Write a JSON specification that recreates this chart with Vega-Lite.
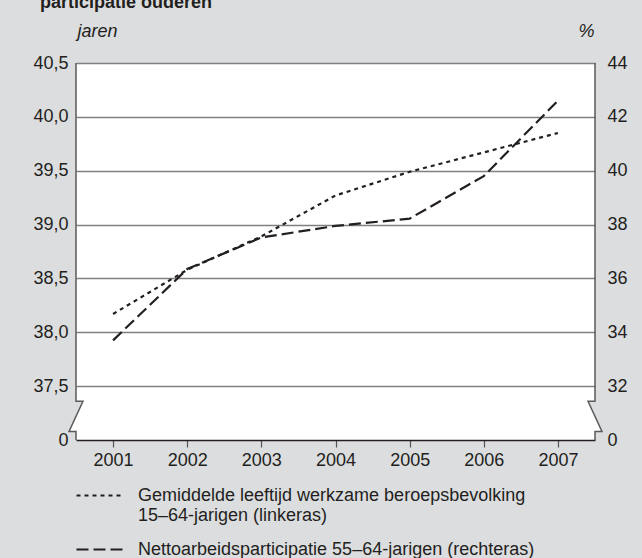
{
  "$schema": "https://vega.github.io/schema/vega-lite/v6.json",
  "width": 519,
  "height": 377,
  "autosize": "none",
  "padding": {"left": 76, "top": 63, "right": 47, "bottom": 118},
  "background": "#dcdddf",
  "title": {"text": "participatie ouderen", "anchor": "start", "frame": "group", "fontSize": 18, "fontWeight": "bold", "color": "#231f20", "font": "Liberation Sans", "baseline": "alphabetic", "offset": 16, "dx": -36, "dy": 20},
  "datasets": {
    "reeksen": [
      {"jaar": 2001, "reeks": "Gemiddelde leeftijd werkzame beroepsbevolking 15–64-jarigen (linkeras)", "waarde": 38.17},
      {"jaar": 2002, "reeks": "Gemiddelde leeftijd werkzame beroepsbevolking 15–64-jarigen (linkeras)", "waarde": 38.58},
      {"jaar": 2003, "reeks": "Gemiddelde leeftijd werkzame beroepsbevolking 15–64-jarigen (linkeras)", "waarde": 38.89},
      {"jaar": 2004, "reeks": "Gemiddelde leeftijd werkzame beroepsbevolking 15–64-jarigen (linkeras)", "waarde": 39.27},
      {"jaar": 2005, "reeks": "Gemiddelde leeftijd werkzame beroepsbevolking 15–64-jarigen (linkeras)", "waarde": 39.49},
      {"jaar": 2006, "reeks": "Gemiddelde leeftijd werkzame beroepsbevolking 15–64-jarigen (linkeras)", "waarde": 39.67},
      {"jaar": 2007, "reeks": "Gemiddelde leeftijd werkzame beroepsbevolking 15–64-jarigen (linkeras)", "waarde": 39.85},
      {"jaar": 2001, "reeks": "Nettoarbeidsparticipatie 55–64-jarigen (rechteras)", "waarde": 33.7},
      {"jaar": 2002, "reeks": "Nettoarbeidsparticipatie 55–64-jarigen (rechteras)", "waarde": 36.35},
      {"jaar": 2003, "reeks": "Nettoarbeidsparticipatie 55–64-jarigen (rechteras)", "waarde": 37.52},
      {"jaar": 2004, "reeks": "Nettoarbeidsparticipatie 55–64-jarigen (rechteras)", "waarde": 37.95},
      {"jaar": 2005, "reeks": "Nettoarbeidsparticipatie 55–64-jarigen (rechteras)", "waarde": 38.22},
      {"jaar": 2006, "reeks": "Nettoarbeidsparticipatie 55–64-jarigen (rechteras)", "waarde": 39.8},
      {"jaar": 2007, "reeks": "Nettoarbeidsparticipatie 55–64-jarigen (rechteras)", "waarde": 42.6}
    ],
    "asbreuk_lijn": [
      {"kant": "links", "i": 0, "x": 2000.5, "v": 40.5},
      {"kant": "links", "i": 1, "x": 2000.5, "v": 37.36},
      {"kant": "links", "i": 2, "x": 2000.594, "v": 37.36},
      {"kant": "links", "i": 3, "x": 2000.406, "v": 37.08},
      {"kant": "links", "i": 4, "x": 2000.5, "v": 37.08},
      {"kant": "links", "i": 5, "x": 2000.5, "v": 37.0},
      {"kant": "rechts", "i": 0, "x": 2007.5, "v": 40.5},
      {"kant": "rechts", "i": 1, "x": 2007.5, "v": 37.36},
      {"kant": "rechts", "i": 2, "x": 2007.406, "v": 37.36},
      {"kant": "rechts", "i": 3, "x": 2007.594, "v": 37.08},
      {"kant": "rechts", "i": 4, "x": 2007.5, "v": 37.08},
      {"kant": "rechts", "i": 5, "x": 2007.5, "v": 37.0}
    ],
    "asbreuk_vlak": [
      {"deel": "links-binnen", "soort": "binnen", "v": 37.36, "a": 2000.5, "b": 2000.594},
      {"deel": "links-binnen", "soort": "binnen", "v": 37.22, "a": 2000.5, "b": 2000.5},
      {"deel": "links-buiten", "soort": "buiten", "v": 37.22, "a": 2000.5, "b": 2000.5},
      {"deel": "links-buiten", "soort": "buiten", "v": 37.08, "a": 2000.406, "b": 2000.5},
      {"deel": "rechts-binnen", "soort": "binnen", "v": 37.36, "a": 2007.406, "b": 2007.5},
      {"deel": "rechts-binnen", "soort": "binnen", "v": 37.22, "a": 2007.5, "b": 2007.5},
      {"deel": "rechts-buiten", "soort": "buiten", "v": 37.22, "a": 2007.5, "b": 2007.5},
      {"deel": "rechts-buiten", "soort": "buiten", "v": 37.08, "a": 2007.5, "b": 2007.594}
    ]
  },
  "layer": [
    {
      "encoding": {
        "y": {"type": "quantitative", "scale": {"domain": [37, 40.5], "nice": false, "zero": false},
          "axis": {"orient": "left", "values": [37, 37.5, 38, 38.5, 39, 39.5, 40, 40.5],
            "labelExpr": "datum.value == 37 ? '0' : replace(format(datum.value, '.1f'), '.', ',')",
            "domain": false, "ticks": false, "grid": true,
            "gridColor": {"condition": {"test": "datum.value == 37", "value": null}, "value": "#808080"},
            "gridWidth": 1.3, "labelPadding": 8,
            "title": "jaren", "titleAngle": 0, "titleX": 1, "titleY": -27, "titleAlign": "left", "titleBaseline": "alphabetic",
            "titleFontStyle": "italic", "titleFontWeight": "normal", "titleFontSize": 18, "titleColor": "#231f20", "titleFont": "Liberation Sans"}}
      },
      "layer": [
        {
          "data": {"name": "reeksen"},
          "transform": [{"filter": "indexof(datum.reeks, 'Gemiddelde') == 0"}],
          "mark": {"type": "line", "color": "#231f20", "strokeWidth": 2.2, "strokeCap": "butt"},
          "encoding": {
            "x": {"field": "jaar", "type": "quantitative", "scale": {"domain": [2000.5, 2007.5], "nice": false, "zero": false},
              "axis": {"values": [2001, 2002, 2003, 2004, 2005, 2006, 2007], "format": "d", "grid": false, "title": null, "domainColor": "#231f20", "domainWidth": 1.5, "tickColor": "#555555", "tickSize": 7, "tickWidth": 1.2, "labelPadding": 4}},
            "y": {"field": "waarde", "type": "quantitative"},
            "strokeDash": {"field": "reeks", "type": "nominal",
              "scale": {"domain": ["Gemiddelde leeftijd werkzame beroepsbevolking 15–64-jarigen (linkeras)", "Nettoarbeidsparticipatie 55–64-jarigen (rechteras)"], "range": [[4, 4], [12, 5]]},
              "legend": {"orient": "none", "legendX": -1, "legendY": 408, "title": null, "symbolType": "stroke", "symbolSize": 2116, "symbolStrokeWidth": 2.2, "symbolStrokeColor": "#231f20",
                "labelFontSize": 18, "labelFont": "Liberation Sans", "labelColor": "#231f20", "labelOffset": 14, "labelLimit": 600, "rowPadding": 0, "padding": 0,
                "labelExpr": "datum.label == 'Nettoarbeidsparticipatie 55–64-jarigen (rechteras)' ? datum.label : ['Gemiddelde leeftijd werkzame beroepsbevolking', '15–64-jarigen (linkeras)']"}}
          }
        },
        {
          "data": {"name": "asbreuk_vlak"},
          "mark": {"type": "area", "orient": "horizontal", "clip": false},
          "encoding": {
            "y": {"field": "v", "type": "quantitative"},
            "x": {"field": "a", "type": "quantitative", "stack": null},
            "x2": {"field": "b"},
            "detail": {"field": "deel", "type": "nominal"},
            "color": {"field": "soort", "type": "nominal", "scale": {"domain": ["binnen", "buiten"], "range": ["#dcdddf", "#ffffff"]}, "legend": null}
          }
        },
        {
          "data": {"name": "asbreuk_lijn"},
          "mark": {"type": "line", "color": "#5a5a5a", "strokeWidth": 1.5, "clip": false, "strokeJoin": "miter"},
          "encoding": {
            "x": {"field": "x", "type": "quantitative"},
            "y": {"field": "v", "type": "quantitative"},
            "detail": {"field": "kant", "type": "nominal"},
            "order": {"field": "i", "type": "quantitative"}
          }
        }
      ]
    },
    {
      "data": {"name": "reeksen"},
      "transform": [{"filter": "indexof(datum.reeks, 'Netto') == 0"}],
      "mark": {"type": "line", "color": "#231f20", "strokeWidth": 2.2, "strokeCap": "butt"},
      "encoding": {
        "x": {"field": "jaar", "type": "quantitative"},
        "y": {"field": "waarde", "type": "quantitative", "scale": {"domain": [30, 44], "nice": false, "zero": false},
          "axis": {"orient": "right", "values": [30, 32, 34, 36, 38, 40, 42, 44],
            "labelExpr": "datum.value == 30 ? '0' : datum.label",
            "domain": false, "ticks": false, "grid": false, "labelPadding": 12,
            "title": "%", "titleAngle": 0, "titleX": -1, "titleY": -27, "titleAlign": "right", "titleBaseline": "alphabetic",
            "titleFontStyle": "italic", "titleFontWeight": "normal", "titleFontSize": 18, "titleColor": "#231f20", "titleFont": "Liberation Sans"}},
        "strokeDash": {"field": "reeks", "type": "nominal"}
      }
    }
  ],
  "resolve": {"scale": {"y": "independent"}},
  "config": {
    "font": "Liberation Sans",
    "view": {"fill": "#ffffff", "stroke": null},
    "axis": {"labelFont": "Liberation Sans", "labelFontSize": 18, "labelColor": "#231f20"},
    "legend": {"padding": 0}
  }
}
